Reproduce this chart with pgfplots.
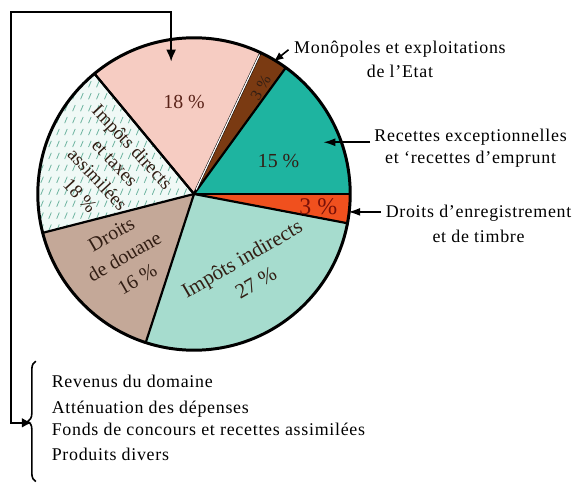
\documentclass[border=0pt]{standalone}
\usepackage{fontspec}
\setmainfont{Liberation Serif}
\newfontfamily\lblfont[LetterSpace=4]{Liberation Serif}
\usepackage{pgfplots}
\pgfplotsset{compat=1.18}
\usetikzlibrary{arrows.meta,patterns.meta,decorations.pathreplacing}

\definecolor{pinkS}{RGB}{246,204,194}
\definecolor{brownS}{RGB}{122,58,18}
\definecolor{tealS}{RGB}{30,180,160}
\definecolor{orangeS}{RGB}{240,80,30}
\definecolor{ltealS}{RGB}{166,220,206}
\definecolor{tanS}{RGB}{196,168,152}
\definecolor{hatchbg}{RGB}{240,249,246}
\definecolor{hatchfg}{RGB}{110,180,160}
\definecolor{labS}{RGB}{50,30,20}

\tikzdeclarepattern{name=dashhatch, type=uncolored,
  bounding box={(-.5pt,-.5pt) and (4.5pt,6.5pt)},
  tile size={(4pt,6pt)},
  code={\draw[line width=0.4pt] (0.5pt,0.5pt) -- (1.8pt,3.6pt);}}

% one wedge: start (percent), share (percent), style
\newcommand\slice[3]{%
  \fill[#3] (axis cs:0,0) -- (axis cs:{157*cos(3.6*#1)},{157*sin(3.6*#1)})
    arc[start angle={3.6*#1}, end angle={3.6*(#1+#2)}, radius=78.5pt] -- cycle;
  \draw[line width=1.1pt] (axis cs:0,0) -- (axis cs:{157*cos(3.6*#1)},{157*sin(3.6*#1)});}

\begin{document}
\begin{tikzpicture}
\begin{axis}[
    x=0.5pt, y=0.5pt,
    xmin=-195, xmax=383, ymin=-289, ymax=195,
    hide axis, clip=false,
]
\path (axis cs:-195,-289) rectangle (axis cs:383,195);
% shares in percent, counter-clockwise from the horizontal
\slice{0}{15}{tealS}
\slice{15}{3}{brownS}
\slice{18}{18}{pinkS}
\slice{36}{18}{hatchbg}
\fill[pattern=dashhatch, pattern color=hatchfg] (axis cs:0,0) -- (axis cs:{157*cos(129.6)},{157*sin(129.6)})
    arc[start angle=129.6, end angle=194.4, radius=78.5pt] -- cycle;
\draw[line width=1.1pt] (axis cs:0,0) -- (axis cs:{157*cos(129.6)},{157*sin(129.6)});
\slice{54}{16}{tanS}
\slice{70}{27}{ltealS}
\slice{97}{3}{orangeS}
\draw[line width=1.1pt] (axis cs:0,0) -- (axis cs:157,0);
\draw[white, line width=0.6pt] (axis cs:{5*cos(64.8)},{5*sin(64.8)}) -- (axis cs:{155*cos(64.8)},{155*sin(64.8)});
\draw[line width=1.5pt] (axis cs:0,0) circle[radius=78.5pt];

% slice labels
\node[text={rgb,255:red,90;green,35;blue,25}, font=\fontsize{10}{12}\selectfont] at (axis cs:-10,92) {18 \%};
\node[text=labS, font=\fontsize{8}{10}\selectfont, rotate=60] at (axis cs:67,107) {3 \%};
\node[text=labS, font=\fontsize{10}{12}\selectfont] at (axis cs:85,33) {15 \%};
\node[text={rgb,255:red,120;green,16;blue,8}, font=\fontsize{12}{14}\selectfont] at (axis cs:125,-13) {3 \%};
\node[text=labS, font=\fontsize{10.5}{14}\selectfont, rotate=30, align=center] at (axis cs:55,-77) {Impôts indirects\\27 \%};
\node[text=labS, font=\fontsize{10}{13}\selectfont, rotate=30, align=center] at (axis cs:-70,-63) {Droits\\de douane\\16 \%};
\node[text=labS, font=\fontsize{9.5}{12}\selectfont, rotate=-47, align=center] at (axis cs:-88,23) {Impôts directs\\et taxes\\assimilées\\18 \%};

% right-hand labels and arrows
\node[font=\lblfont\fontsize{9}{12}\selectfont, align=center] at (axis cs:207,135) {Monôpoles et exploitations\\de l’Etat};
\draw[line width=0.8pt, -{Latex[length=5pt,width=4pt]}] (axis cs:95,145) -- (axis cs:80,133);
\node[font=\lblfont\fontsize{9}{11}\selectfont, align=center] at (axis cs:278,46) {Recettes exceptionnelles\\et ‘recettes d’emprunt};
\draw[line width=0.8pt, -{Latex[length=6pt,width=4pt]}] (axis cs:177,52) -- (axis cs:130,52);
\node[font=\lblfont\fontsize{9}{12.5}\selectfont, align=center] at (axis cs:286,-30) {Droits d’enregistrement\\et de timbre};
\draw[line width=0.8pt, -{Latex[length=6pt,width=4pt]}] (axis cs:188,-18) -- (axis cs:155,-18);

% bracket from the list to the pink wedge
\draw[line width=1pt, {Latex[length=5pt,width=5pt]}-{Latex[length=6pt,width=5pt]}]
  (axis cs:-163,-230) -- (axis cs:-184,-230) -- (axis cs:-184,183) -- (axis cs:-23,183) -- (axis cs:-23,133);
\draw[line width=0.8pt, decorate, decoration={brace, amplitude=4pt}]
  (axis cs:-159,-289) -- (axis cs:-159,-168);
\node[anchor=mid west, font=\lblfont\fontsize{9}{11}\selectfont] at (axis cs:-150,-190) {Revenus du domaine};
\node[anchor=mid west, font=\lblfont\fontsize{9}{11}\selectfont] at (axis cs:-150,-216) {Atténuation des dépenses};
\node[anchor=mid west, font=\lblfont\fontsize{9}{11}\selectfont] at (axis cs:-150,-238) {Fonds de concours et recettes assimilées};
\node[anchor=mid west, font=\lblfont\fontsize{9}{11}\selectfont] at (axis cs:-150,-263) {Produits divers};
\end{axis}
\end{tikzpicture}
\end{document}
